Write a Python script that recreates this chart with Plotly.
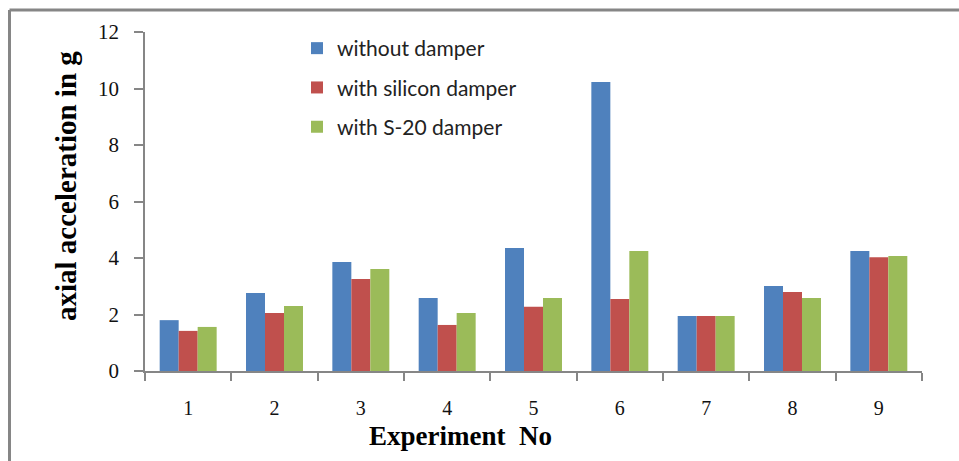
import plotly.graph_objects as go

experiments = ["1", "2", "3", "4", "5", "6", "7", "8", "9"]
without_damper = [1.80, 2.76, 3.86, 2.58, 4.35, 10.23, 1.95, 3.01, 4.25]
silicon_damper = [1.42, 2.05, 3.26, 1.63, 2.27, 2.55, 1.95, 2.80, 4.03]
s20_damper = [1.56, 2.30, 3.61, 2.05, 2.58, 4.25, 1.95, 2.58, 4.07]
series_names = ["without damper", "with silicon damper", "with S-20 damper"]
y_ticks = [0, 2, 4, 6, 8, 10, 12]

colors = ["#4F81BD", "#C0504D", "#9BBB59"]

fig = go.Figure()
for i, (name, vals) in enumerate(zip(series_names, [without_damper, silicon_damper, s20_damper])):
    fig.add_trace(go.Bar(x=experiments, y=vals, name=name, marker_color=colors[i],
                         marker_line_width=0, legendgroup=f"g{i}"))

W, H = 959, 461
ml, mr, mt, mb = 145, 37, 32, 90
pw, ph = W - ml - mr, H - mt - mb

def px_x(x):
    return (x - ml) / pw

def px_y(y):
    return (H - mb - y) / ph

axis_grey = "#868686"
fig.update_layout(
    width=W, height=H,
    margin=dict(l=ml, r=mr, t=mt, b=mb),
    paper_bgcolor="white", plot_bgcolor="white",
    barmode="group", bargap=0.34, bargroupgap=0,
    font=dict(family="Lato", color="#222222"),
    showlegend=True,
    legend=dict(x=px_x(297), y=px_y(28), xanchor="left", yanchor="top",
                font=dict(family="Lato", size=21, color="#222222"),
                bgcolor="rgba(0,0,0,0)", traceorder="grouped", tracegroupgap=9,
                itemwidth=30),
    xaxis=dict(type="category", showline=True, linecolor=axis_grey, linewidth=1.5,
               ticks="outside", ticklen=8, tickcolor=axis_grey, tickwidth=1.5,
               tickson="boundaries", showgrid=False, zeroline=False,
               tickfont=dict(family="Liberation Serif", size=20, color="#111111"),
               ticklabelstandoff=18),
    yaxis=dict(range=[0, 12], tickvals=y_ticks, showline=True, linecolor=axis_grey,
               linewidth=1.5, ticks="outside", ticklen=9, tickcolor=axis_grey, tickwidth=1.5,
               showgrid=False, zeroline=False,
               tickfont=dict(family="Liberation Serif", size=21, color="#111111"),
               ticklabelstandoff=11),
)

fig.add_annotation(text="<b>axial acceleration in g</b>", textangle=-90,
                   xref="paper", yref="paper", x=px_x(66), y=px_y(186),
                   xanchor="center", yanchor="middle", showarrow=False,
                   font=dict(family="Liberation Serif", size=29, color="#000000"))
fig.add_annotation(text="<b>Experiment  No</b>",
                   xref="paper", yref="paper", x=px_x(460), y=px_y(436),
                   xanchor="center", yanchor="middle", showarrow=False,
                   font=dict(family="Liberation Serif", size=27, color="#000000"))

# outer chart frame (top and left edges visible)
fig.add_shape(type="line", xref="paper", yref="paper",
              x0=px_x(9.5), x1=px_x(962), y0=px_y(10), y1=px_y(10),
              line=dict(color=axis_grey, width=3))
fig.add_shape(type="line", xref="paper", yref="paper",
              x0=px_x(9.5), x1=px_x(9.5), y0=px_y(10), y1=px_y(470),
              line=dict(color=axis_grey, width=3))

fig.write_html("out.html", config={"displayModeBar": False},
               post_script="document.body.style.margin='0';document.body.style.overflow='hidden';")
